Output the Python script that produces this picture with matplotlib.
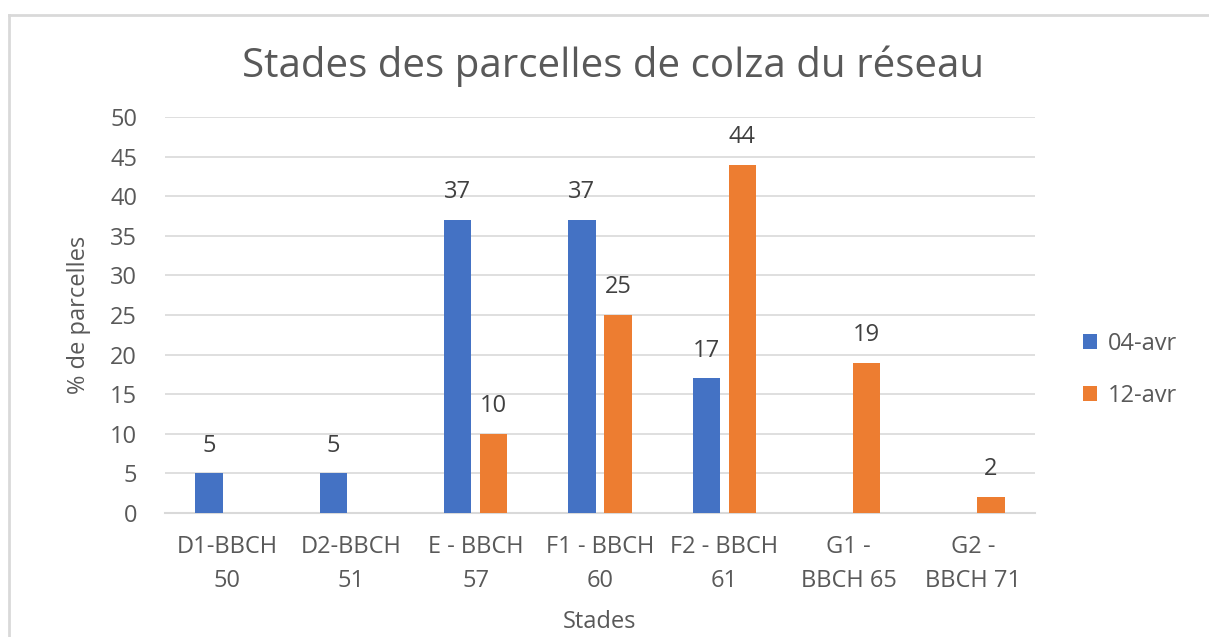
import matplotlib
matplotlib.use("Agg")
import matplotlib.pyplot as plt
from matplotlib.lines import Line2D
import numpy as np

categories = ["D1-BBCH\n50", "D2-BBCH\n51", "E - BBCH\n57", "F1 - BBCH\n60",
              "F2 - BBCH\n61", "G1 -\nBBCH 65", "G2 -\nBBCH 71"]
series_names = ["04-avr", "12-avr"]
vals_0404 = [5, 5, 37, 37, 17, 0, 0]
vals_1204 = [0, 0, 10, 25, 44, 19, 2]
colors = ["#4472C4", "#ED7D31"]
yticks = list(range(0, 55, 5))

plt.rcParams['font.family'] = ['Open Sans', 'DejaVu Sans']
txt = "#595959"

fig = plt.figure(figsize=(12.09, 6.37), dpi=100)
ax = fig.add_axes([165/1209, 1-513/637, (1035-165)/1209, (513-117)/637])

x = np.arange(len(categories))
w = 0.22
off = 0.145
for vals, sgn, c, name in [(vals_0404, -1, colors[0], series_names[0]),
                           (vals_1204, 1, colors[1], series_names[1])]:
    xs = [xi + sgn*off for xi, v in zip(x, vals) if v > 0]
    vs = [v for v in vals if v > 0]
    ax.bar(xs, vs, width=w, color=c, label=name, zorder=3)
    for xi, v in zip(xs, vs):
        ax.annotate(str(v), (xi, v), xytext=(0, 20), textcoords='offset points',
                    ha='center', va='center', fontsize=17, color="#404040")

ax.set_xlim(-0.5, len(categories) - 0.5)
ax.set_ylim(0, 50)
ax.set_yticks(yticks)
ax.set_xticks(x)
ax.set_xticklabels(categories, fontsize=17, color=txt, linespacing=1.55)
ax.tick_params(axis='y', labelsize=17, colors=txt, length=0, pad=20)
ax.tick_params(axis='x', length=0, pad=16)
ax.grid(axis='y', color="#d9d9d9", lw=1.2, zorder=0)
for s in ["top", "right", "left"]:
    ax.spines[s].set_visible(False)
ax.spines["bottom"].set_color("#d9d9d9")
ax.spines["bottom"].set_linewidth(1.5)
ax.set_axisbelow(True)

ax.set_ylabel("% de parcelles", fontsize=17, color=txt, labelpad=14)
ax.set_xlabel("Stades", fontsize=17, color=txt, labelpad=12)
fig.text(613/1209, 1-66/637, "Stades des parcelles de colza du réseau",
         ha='center', va='center', fontsize=29, color=txt)

leg = ax.legend(loc='center left', bbox_to_anchor=(1062/1209, 1-370/637),
                bbox_transform=fig.transFigure, frameon=False, fontsize=17,
                handlelength=0.6, handleheight=0.6, handletextpad=0.45,
                labelspacing=1.2)
for t in leg.get_texts():
    t.set_color(txt)

fig.add_artist(Line2D([9/1209, 9/1209], [0, 1-15/637], color="#d9d9d9", lw=2,
                      transform=fig.transFigure))
fig.add_artist(Line2D([9/1209, 1], [1-15/637, 1-15/637], color="#d9d9d9", lw=2,
                      transform=fig.transFigure))

fig.savefig("out.png", dpi=100)
